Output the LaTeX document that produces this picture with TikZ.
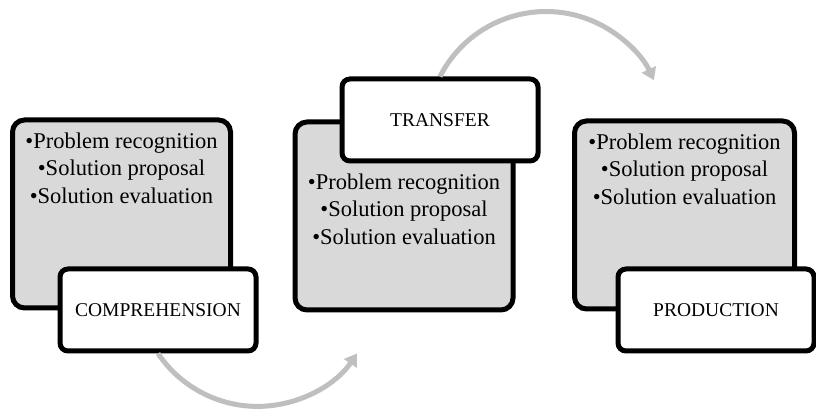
\documentclass[tikz,border=0pt]{standalone}
\usepackage{fontspec}
\setmainfont{Liberation Serif}
\usetikzlibrary{positioning,arrows.meta}
\tikzset{
    stage/.style={draw, line width=5pt, rounded corners=12pt, fill=black!15,
        minimum width=218pt, minimum height=188pt},
    stagename/.style={draw, line width=5pt, rounded corners=8pt, fill=white,
        minimum width=196pt, minimum height=82pt, font=\fontsize{19.5}{23}\selectfont},
    skills/.style={align=center, inner sep=0pt, font=\fontsize{22.5}{27.5}\selectfont},
    cycle/.style={draw=black!25, line width=5pt, -{Triangle[length=12pt,width=15pt]}}
}
\begin{document}
\begin{tikzpicture}[x=1pt,y=1pt]
            \useasboundingbox (0,0) rectangle (816,412);
            \begin{scope}
                \node[stage] (box1) at (121.5,198) {};
                \node[stagename] (comp) at (158,102) {COMPREHENSION};
                \node[skills, below=15pt of box1.north] (list1)
                    {•Problem recognition\\•Solution proposal\\•Solution evaluation};
            \end{scope}
            \begin{scope}
                \node[stage] (box2) at (404,196) {};
                \node[stagename] (trans) at (440,292) {TRANSFER};
                \node[skills, below=10pt of box2.north |- trans.south] (list2)
                    {•Problem recognition\\•Solution proposal\\•Solution evaluation};
            \end{scope}
            \begin{scope}
                \node[stage, minimum width=220pt] (box3) at (684.5,197) {};
                \node[stagename] (prod) at (716,102) {PRODUCTION};
                \node[skills, below=15pt of box3.north] (list3)
                    {•Problem recognition\\•Solution proposal\\•Solution evaluation};
            \end{scope}
            \draw[cycle] (comp.south) arc[start angle=214, end angle=326, radius=120];
            \draw[cycle] (trans.north) arc[start angle=153, end angle=25, radius=119];
        \end{tikzpicture}
\end{document}
